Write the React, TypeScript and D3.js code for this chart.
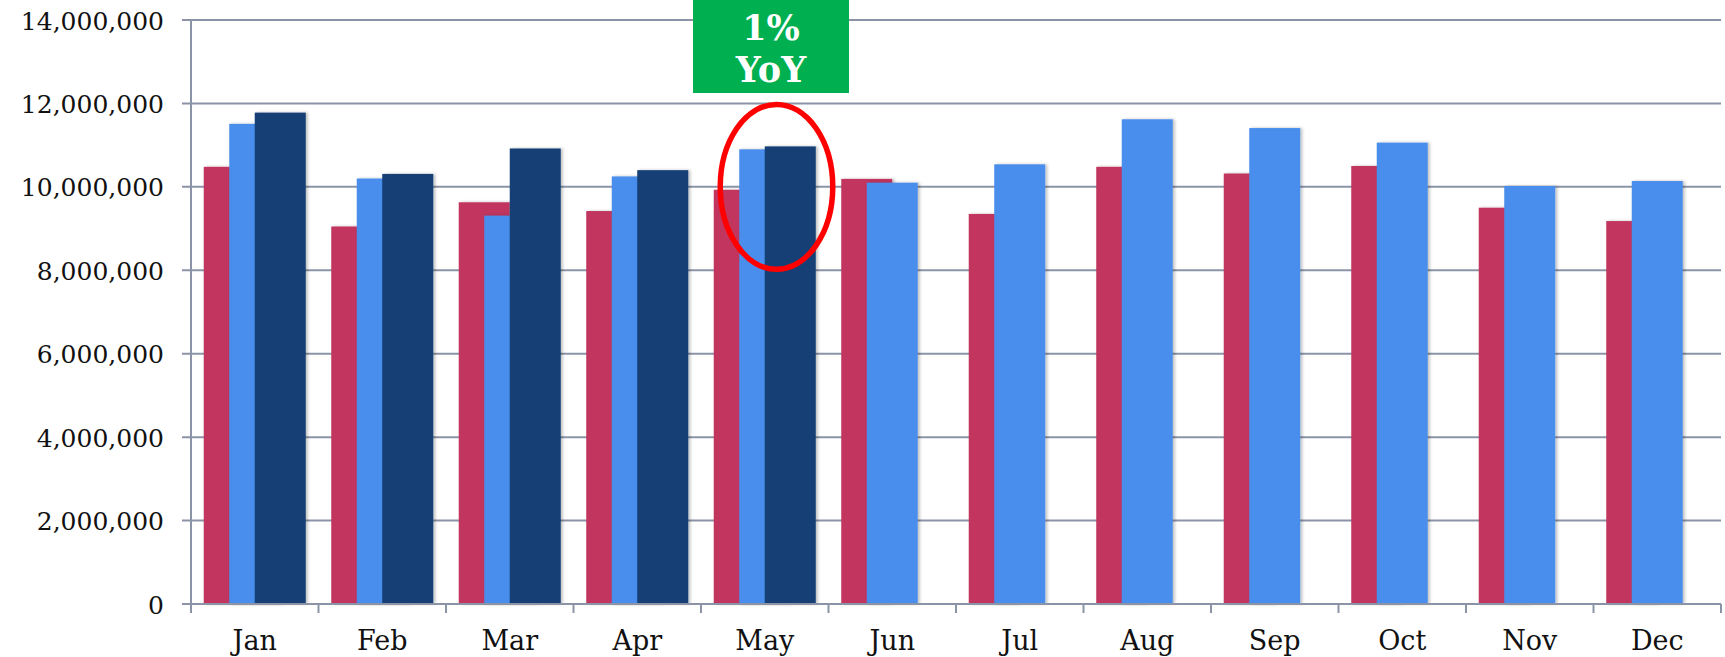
import React from 'react'
import * as d3 from 'd3'

// monthly values
const months = ['Jan', 'Feb', 'Mar', 'Apr', 'May', 'Jun', 'Jul', 'Aug', 'Sep', 'Oct', 'Nov', 'Dec']
const yearA = [10480000, 9050000, 9630000, 9420000, 9930000, 10190000, 9350000, 10480000, 10320000, 10500000, 9500000, 9180000]
const yearB = [11510000, 10200000, 9310000, 10250000, 10900000, 10100000, 10540000, 11620000, 11410000, 11060000, 10020000, 10140000]
const yearC = [11780000, 10310000, 10920000, 10400000, 10970000, null, null, null, null, null, null, null]
const yTicks = [0, 2000000, 4000000, 6000000, 8000000, 10000000, 12000000, 14000000]
const callout = ['1%', 'YoY']
const calloutMonth = 'May'

const colors = ['#C1345F', '#4A8EEC', '#123F75']
const gridColor = '#8B94A7'
const font = '"DejaVu Serif", "Liberation Serif", serif'

export default function App() {
  const W = 1725
  const H = 657
  const left = 191
  const right = 1721
  const top = 20
  const bottom = 604

  const x = d3.scaleBand<string>().domain(months).range([left, right]).padding(0)
  const y = d3.scaleLinear().domain([0, 14000000]).range([bottom, top])
  const bw = x.bandwidth()
  const barW = bw * 0.4
  const offset = d3.scaleLinear().domain([0, 2]).range([bw * 0.1, bw * 0.5])

  const series = [yearA, yearB, yearC]
  const fmt = d3.format(',')

  // callout ellipse around May's 2nd and 3rd bars
  const mx = x(calloutMonth)!
  const ex0 = mx + offset(1)
  const ex1 = mx + offset(2) + barW
  const ecx = (ex0 + ex1) / 2 - 1
  const ecy = y(10000000)
  const erx = (ex1 - ex0) / 2 + 18
  const ery = y(8000000) - y(10000000) - 1

  return (
    <svg width={W} height={H} style={{ position: 'absolute', left: 0, top: 0, background: '#fff' }}>
      <defs>
        <filter id="shadow" x="-10%" y="-5%" width="130%" height="110%">
          <feDropShadow dx="2" dy="0" stdDeviation="1.5" floodColor="#000" floodOpacity="0.25" />
        </filter>
      </defs>

      {/* grid + y ticks */}
      {yTicks.map((t) => (
        <g key={t}>
          <line x1={left - 9} x2={right} y1={y(t)} y2={y(t)} stroke={gridColor} strokeWidth={2} />
          <text x={164} y={y(t) + 1} textAnchor="end" dominantBaseline="central"
            fontFamily={font} fontSize={25} fill="#111">
            {fmt(t)}
          </text>
        </g>
      ))}

      {/* bars */}
      {series.map((vals, si) => (
        <g key={si} fill={colors[si]} filter="url(#shadow)">
          {months.map((m, i) => {
            const v = vals[i]
            if (v == null) return null
            return (
              <rect key={m} x={x(m)! + offset(si)} y={y(v)} width={barW} height={y(0) - y(v)} />
            )
          })}
        </g>
      ))}

      {/* axes */}
      <line x1={left} x2={left} y1={top} y2={bottom + 9} stroke={gridColor} strokeWidth={2} />
      <line x1={left} x2={right} y1={bottom} y2={bottom} stroke={gridColor} strokeWidth={2} />
      {months.map((m) => (
        <line key={m} x1={x(m)! + bw} x2={x(m)! + bw} y1={bottom} y2={bottom + 9} stroke={gridColor} strokeWidth={2} />
      ))}
      {months.map((m) => (
        <text key={m} x={x(m)! + bw / 2} y={650} textAnchor="middle" fontFamily={font} fontSize={27} fill="#111">
          {m}
        </text>
      ))}

      {/* callout */}
      <ellipse cx={ecx} cy={ecy} rx={erx} ry={ery} fill="none" stroke="#FF0000" strokeWidth={5.5} />
      <rect x={693} y={0} width={156} height={93} fill="#00B050" />
      <text x={771} y={40} textAnchor="middle" fontFamily={font} fontWeight="bold" fontSize={35} fill="#fff">
        {callout[0]}
      </text>
      <text x={771} y={82} textAnchor="middle" fontFamily={font} fontWeight="bold" fontSize={35} fill="#fff">
        {callout[1]}
      </text>
    </svg>
  )
}
